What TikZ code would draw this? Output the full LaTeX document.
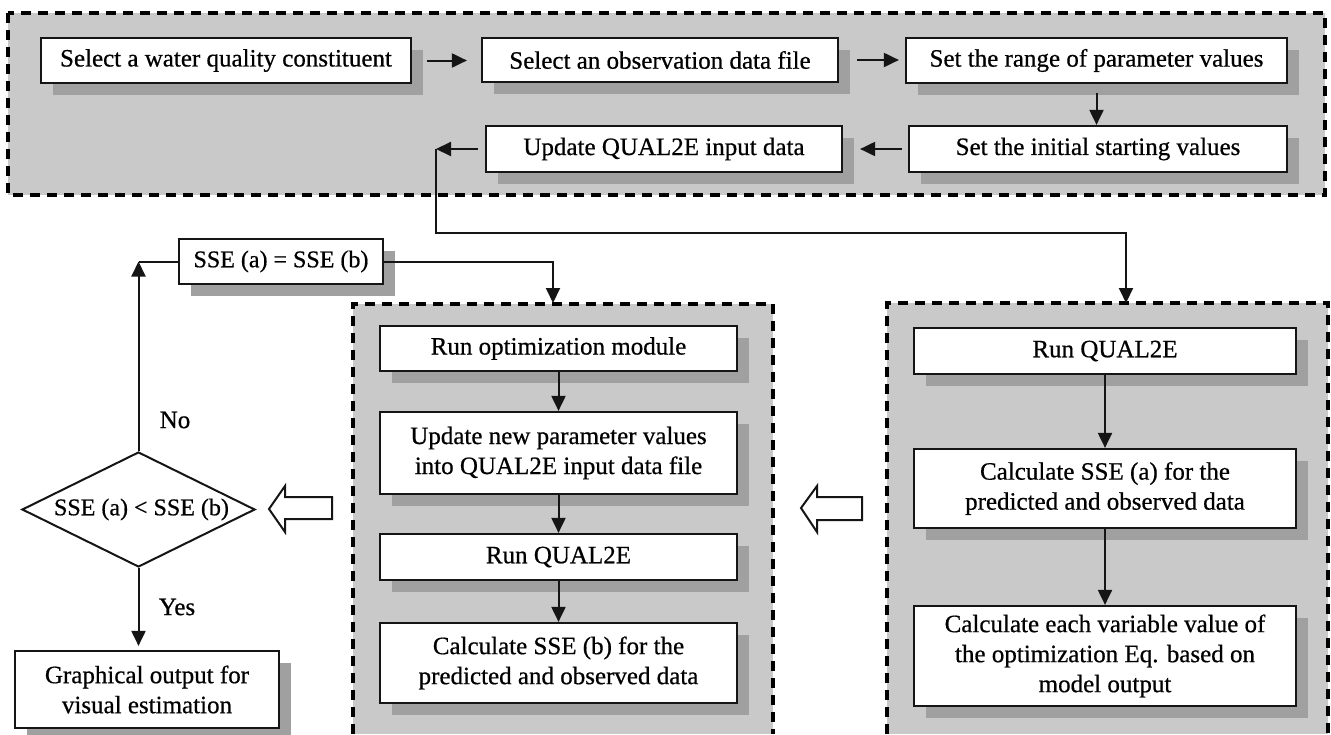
\documentclass[tikz,border=0pt]{standalone}
\usepackage{fontspec}
\setmainfont{Liberation Serif}[UprightFeatures={FakeBold=0.6}]
\usetikzlibrary{arrows.meta,shadows,shapes.geometric}
\definecolor{panelgray}{HTML}{C9C9C9}
\definecolor{shadowgray}{HTML}{A0A0A0}
\definecolor{linecol}{HTML}{151515}
\begin{document}
\begin{tikzpicture}[x=1pt,y=-1pt,
  font=\fontsize{25}{30}\selectfont,
  box/.style={draw=linecol,line width=2.2pt,fill=white,align=center,inner sep=0pt,
     drop shadow={shadow xshift=12pt,shadow yshift=-12pt,fill=shadowgray,opacity=1}},
  panel/.style={fill=panelgray},
  dashline/.style={draw=black,line width=3.6pt,dash pattern=on 10pt off 7pt},
  arr/.style={draw=linecol,line width=2pt,-{Triangle[length=15pt,width=14pt]}},
  conn/.style={draw=linecol,line width=2pt},
  hollow/.style={draw=linecol,line width=2pt,fill=white,line join=miter}
]
\useasboundingbox (0,0) rectangle (1331,734);
\fill[white] (0,0) rectangle (1331,734);

% panels
\path[panel] (8,13) rectangle (1325,195);
\draw[dashline] (8,13) rectangle (1325,195);
\path[panel] (353,304) rectangle (773,734);
\draw[dashline] (353,734) -- (353,304) -- (773,304) -- (773,734);
\path[panel] (887,303) rectangle (1328,734);
\draw[dashline] (887,734) -- (887,303) -- (1328,303) -- (1328,734);

% top row
\node[box,minimum width=370pt,minimum height=45pt] (b1) at (226,60.5) {Select a water quality constituent};
\node[box,minimum width=356pt,minimum height=44pt] (b2) at (660,60) {Select an observation data file};
\node[box,minimum width=381pt,minimum height=45pt] (b3) at (1096.5,60.5) {Set the range of parameter values};
\node[box,minimum width=378pt,minimum height=46pt] (b4) at (1098,149) {Set the initial starting values};
\node[box,minimum width=356pt,minimum height=46pt] (b5) at (664,149) {Update QUAL2E input data};

% middle panel
\node[box,minimum width=357pt,minimum height=45pt] (m1) at (558.5,348.5) {Run optimization module};
\node[box,minimum width=357pt,minimum height=82pt] (m2) at (558.5,453) {Update new parameter values\\into QUAL2E input data file};
\node[box,minimum width=357pt,minimum height=46pt] (m3) at (558.5,557) {Run QUAL2E};
\node[box,minimum width=357pt,minimum height=80pt] (m4) at (558.5,663) {Calculate SSE (b) for the\\predicted and observed data};

% right panel
\node[box,minimum width=382pt,minimum height=46pt] (r1) at (1105,351) {Run QUAL2E};
\node[box,minimum width=382pt,minimum height=79pt] (r2) at (1105,488.5) {Calculate SSE (a) for the\\predicted and observed data};
\node[box,minimum width=382pt,minimum height=100pt] (r3) at (1105,656) {Calculate each variable value of\\the optimization Eq. based on\\model output};

% left column
\node[box,minimum width=204pt,minimum height=45pt,font=\fontsize{24}{29}\selectfont] (eq) at (281,261.5) {SSE (a) = SSE (b)};
\node[draw=linecol,line width=2pt,fill=white,shape=diamond,minimum width=233pt,minimum height=115pt,inner sep=0pt,
      label={[font=\fontsize{24}{29}\selectfont,xshift=3pt]center:SSE (a) < SSE (b)}] (dia) at (138.5,509.5) {};
\node[box,minimum width=264pt,minimum height=77pt] (gr) at (147,689.5) {Graphical output for\\visual estimation};
\node (no) at (175,420) {No};
\node (yes) at (177,607) {Yes};

% connectors top
\draw[arr,shorten <=15pt,shorten >=14pt] (b1.east) -- (b1.east -| b2.west);
\draw[arr,shorten <=18pt,shorten >=6pt] (b2.east) -- (b2.east -| b3.west);
\draw[arr,shorten <=9pt] (b3.south) -- (b3.south |- b4.north);
\draw[arr,shorten <=6pt,shorten >=17pt] (b4.west) -- (b4.west -| b5.east);
\coordinate (cA) at (436,149);
\coordinate (cB) at (436,233);
\coordinate (rtop) at (1126,303);
\draw[arr,shorten <=7pt] (b5.west) -- (cA);
\draw[arr] (cA) -- (cB) -| (rtop);

% middle and right
\draw[arr] (m1) -- (m2);
\draw[arr] (m2) -- (m3);
\draw[arr] (m3) -- (m4);
\draw[arr] (r1) -- (r2);
\draw[arr] (r2) -- (r3);

% left loop
\coordinate (mtop) at (553,303);
\draw[arr] (eq.east) -| (mtop);
\draw[arr] (dia.north) -- (dia.north |- eq.west);
\draw[conn] (eq.west) -- (dia.north |- eq.west);
\draw[arr,shorten >=4pt] (dia.south) -- (dia.south |- gr.north);

% hollow arrows
\draw[hollow] (801,508) -- (817,486) -- (817,497) -- (862,497) -- (862,520) -- (817,520) -- (817,532) -- cycle;
\draw[hollow] (269,509) -- (285,486) -- (285,497) -- (332,497) -- (332,519) -- (285,519) -- (285,532) -- cycle;
\end{tikzpicture}
\end{document}
